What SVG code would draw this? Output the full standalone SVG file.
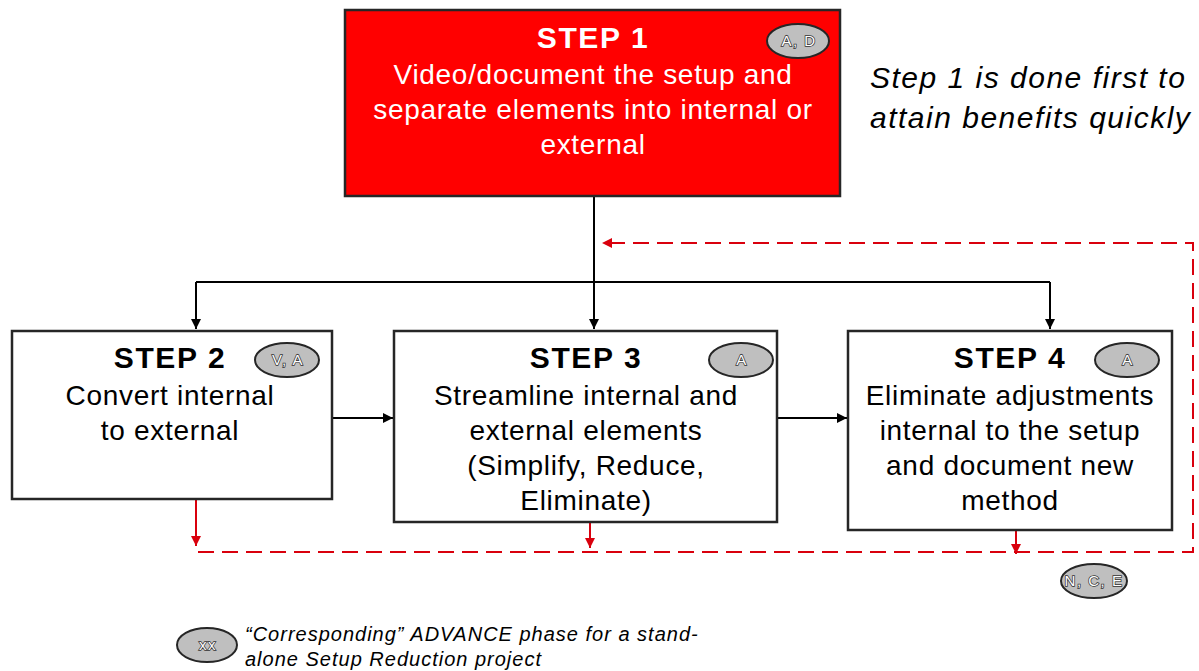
<svg xmlns="http://www.w3.org/2000/svg" width="1199" height="671" viewBox="0 0 1199 671">
<defs>
<style>
.box{fill:#fff;stroke:#262626;stroke-width:2.5}
.t{font-family:"Liberation Sans",Arial,sans-serif;font-size:28px;letter-spacing:0.7px;fill:#000;text-anchor:middle}
.h{font-weight:bold;font-size:30px;letter-spacing:1.6px}
.w{fill:#fff}
.badge ellipse{fill:#bfbfbf;stroke:#262626;stroke-width:2}
.badge text{font-family:"Liberation Sans",Arial,sans-serif;font-size:15px;letter-spacing:1.5px;fill:#fff;stroke:#333;stroke-width:1.5;paint-order:stroke;text-anchor:middle}
.it{font-family:"Liberation Sans",Arial,sans-serif;font-style:italic;fill:#000}
.blk{fill:none;stroke:#000;stroke-width:2}
.red{fill:none;stroke:#d9000d;stroke-width:2}
.dash{stroke-dasharray:16,8}
</style>
<marker id="abk" viewBox="0 0 10 10" refX="10" refY="5" markerWidth="10" markerHeight="10" orient="auto" markerUnits="userSpaceOnUse"><path d="M0,0L10,5L0,10z" fill="#000"/></marker>
<marker id="ar" viewBox="0 0 10 10" refX="10" refY="5" markerWidth="10" markerHeight="10" orient="auto" markerUnits="userSpaceOnUse"><path d="M0,0L10,5L0,10z" fill="#d9000d"/></marker>
</defs>

<g id="connectors">
<path class="blk" d="M594,196V329" marker-end="url(#abk)"/>
<path class="blk" d="M196,282H1050"/>
<path class="blk" d="M196,282V329" marker-end="url(#abk)"/>
<path class="blk" d="M1050,282V329" marker-end="url(#abk)"/>
<path class="blk" d="M332,418H393" marker-end="url(#abk)"/>
<path class="blk" d="M777,418H847" marker-end="url(#abk)"/>
<path class="red" d="M196,499V546" marker-end="url(#ar)"/>
<path class="red" d="M590,522V548" marker-end="url(#ar)"/>
<path class="red" d="M1016,530V554" marker-end="url(#ar)"/>
<path class="red dash" d="M198,552H1193V243H602" marker-end="url(#ar)"/>
</g>

<g id="step1">
<rect x="345" y="10" width="495" height="186" fill="#ff0000" stroke="#262626" stroke-width="2.5"/>
<text class="t h w" x="593" y="48">STEP 1</text>
<text class="t w" x="593" y="84">Video/document the setup and</text>
<text class="t w" x="593" y="119">separate elements into internal or</text>
<text class="t w" x="593" y="154">external</text>
<g class="badge"><ellipse cx="798" cy="41" rx="31" ry="17"/><text x="799" y="46">A, D</text></g>
</g>

<g id="note">
<text class="it" x="870" y="88" font-size="30" letter-spacing="1.5">Step 1 is done first to</text>
<text class="it" x="870" y="128" font-size="30" letter-spacing="1.5">attain benefits quickly</text>
</g>

<g id="step2">
<rect class="box" x="12" y="331" width="320" height="168"/>
<text class="t h" x="170" y="368">STEP 2</text>
<text class="t" x="170" y="405">Convert internal</text>
<text class="t" x="170" y="440">to external</text>
<g class="badge"><ellipse cx="287" cy="360" rx="32" ry="17"/><text x="288" y="365">V, A</text></g>
</g>

<g id="step3">
<rect class="box" x="394" y="331" width="383" height="191"/>
<text class="t h" x="586" y="368">STEP 3</text>
<text class="t" x="586" y="405">Streamline internal and</text>
<text class="t" x="586" y="440">external elements</text>
<text class="t" x="586" y="475">(Simplify, Reduce,</text>
<text class="t" x="586" y="510">Eliminate)</text>
<g class="badge"><ellipse cx="741" cy="360" rx="32" ry="17"/><text x="742" y="365">A</text></g>
</g>

<g id="step4">
<rect class="box" x="848" y="331" width="324" height="199"/>
<text class="t h" x="1010" y="368">STEP 4</text>
<text class="t" x="1010" y="405">Eliminate adjustments</text>
<text class="t" x="1010" y="440">internal to the setup</text>
<text class="t" x="1010" y="475">and document new</text>
<text class="t" x="1010" y="510">method</text>
<g class="badge"><ellipse cx="1127" cy="360" rx="32" ry="17"/><text x="1128" y="365">A</text></g>
</g>

<g id="nce" class="badge"><ellipse cx="1094" cy="581" rx="33" ry="17"/><text x="1094" y="586" letter-spacing="0.3">N, C, E</text></g>

<g id="legend">
<g class="badge"><ellipse cx="207" cy="645" rx="30" ry="17"/><text x="208" y="650">xx</text></g>
<text class="it" x="245" y="641" font-size="20" letter-spacing="1">“Corresponding” ADVANCE phase for a stand-</text>
<text class="it" x="245" y="666" font-size="20" letter-spacing="1">alone Setup Reduction project</text>
</g>
</svg>
